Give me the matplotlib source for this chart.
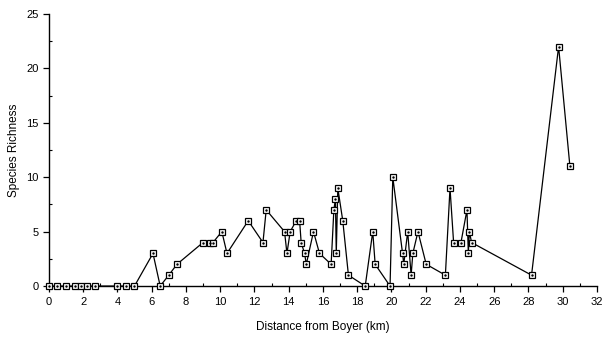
import matplotlib
matplotlib.use("Agg")
import matplotlib.pyplot as plt
from matplotlib.ticker import MultipleLocator

distance_km = [0.0, 0.5, 1.0, 1.5, 1.9, 2.2, 2.7,
               4.0, 4.5, 5.0, 6.08, 6.5, 7.0, 7.48,
               9.0, 9.39, 9.58, 10.1, 10.4, 11.64, 12.5, 12.69,
               13.76, 13.9, 14.09, 14.44, 14.64, 14.73, 14.93, 15.03,
               15.45, 15.8, 16.48, 16.64, 16.73, 16.78, 16.87, 17.16,
               17.49, 18.47, 18.91, 19.05, 19.92, 20.08, 20.65, 20.72,
               20.95, 21.15, 21.25, 21.55, 22.03, 23.15, 23.42, 23.63,
               24.06, 24.41, 24.49, 24.55, 24.68, 28.18, 29.76, 30.42]
richness = [0, 0, 0, 0, 0, 0, 0,
            0, 0, 0, 3, 0, 1, 2,
            4, 4, 4, 5, 3, 6, 4, 7,
            5, 3, 5, 6, 6, 4, 3, 2,
            5, 3, 2, 7, 8, 3, 9, 6,
            1, 0, 5, 2, 0, 10, 3, 2,
            5, 1, 3, 5, 2, 1, 9, 4,
            4, 7, 3, 5, 4, 1, 22, 11]

x_ticks = list(range(0, 33, 2))
y_ticks = [0, 5, 10, 15, 20, 25]

plt.rcParams['font.family'] = ['Liberation Sans', 'DejaVu Sans']
fig = plt.figure(figsize=(6.03, 3.48), dpi=100)
ax = fig.add_axes([0.081, 0.178, 0.909, 0.782])

ax.plot(distance_km, richness, color='black', lw=0.9,
        marker='s', markersize=5, markerfacecolor='white',
        markeredgecolor='black', markeredgewidth=0.9, clip_on=False, zorder=3)
ax.plot(distance_km, richness, ls='none', marker='.', markersize=1.5,
        color='black', clip_on=False, zorder=4)

ax.set_xlim(0, 32)
ax.set_ylim(0, 25)
ax.set_xticks(x_ticks)
ax.set_yticks(y_ticks)
ax.xaxis.set_minor_locator(MultipleLocator(1))
ax.yaxis.set_minor_locator(MultipleLocator(2.5))
ax.tick_params(axis='both', which='major', direction='out', length=4,
               width=0.9, labelsize=8, colors='black')
ax.tick_params(axis='both', which='minor', direction='in', length=2, width=0.8)
ax.tick_params(axis='x', pad=4)
for s in ['top', 'right']:
    ax.spines[s].set_visible(False)
for s in ['left', 'bottom']:
    ax.spines[s].set_linewidth(1.0)

ax.set_xlabel('Distance from Boyer (km)', fontsize=8.5, labelpad=10)
ax.set_ylabel('Species Richness', fontsize=8.5, labelpad=4)

fig.savefig('out.png', dpi=100)
